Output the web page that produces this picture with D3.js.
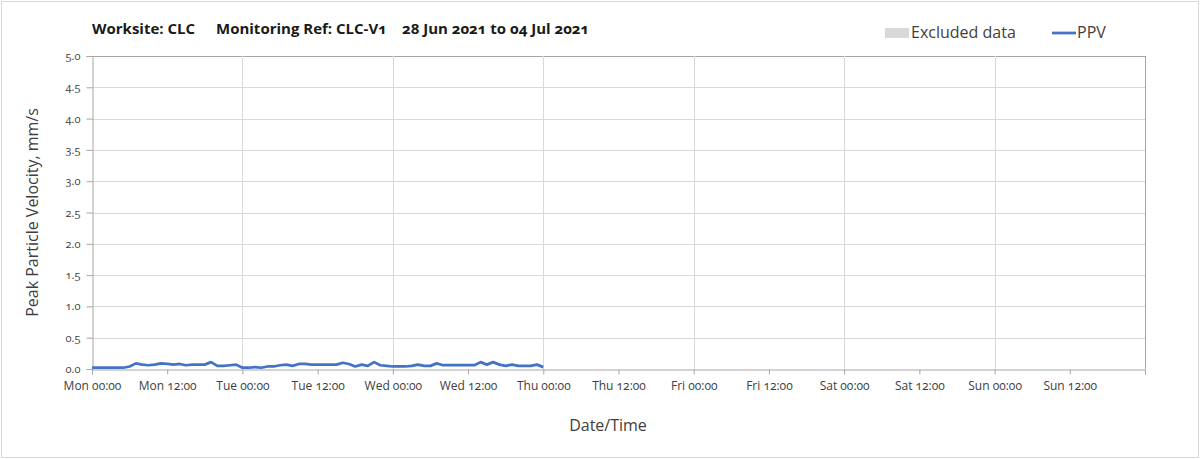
<!DOCTYPE html>
<html>
  <head>
    <meta charset="utf-8">
    <style>
      body { margin: 0; background: #fff; }
      text { font-family: "Open Sans", Lato, sans-serif; font-variant-numeric: oldstyle-nums; }
    </style>
  </head>
  <body>
    <script src="https://d3js.org/d3.v7.min.js"></script>
    <script>
      // hourly readings, Mon 00:00 to Thu 00:00
      var hours = d3.range(0, 73);
      var ppv = [0.02, 0.02, 0.02, 0.02, 0.02, 0.02, 0.04, 0.09, 0.07, 0.06,
                 0.07, 0.09, 0.08, 0.07, 0.08, 0.06, 0.07, 0.07, 0.07, 0.11,
                 0.05, 0.05, 0.06, 0.07, 0.02, 0.02, 0.03, 0.02, 0.04, 0.04,
                 0.06, 0.07, 0.05, 0.08, 0.08, 0.07, 0.07, 0.07, 0.07, 0.07,
                 0.10, 0.08, 0.04, 0.07, 0.05, 0.11, 0.06, 0.05, 0.04, 0.04,
                 0.04, 0.05, 0.07, 0.05, 0.05, 0.09, 0.06, 0.06, 0.06, 0.06,
                 0.06, 0.06, 0.11, 0.07, 0.11, 0.07, 0.05, 0.07, 0.05, 0.05,
                 0.05, 0.07, 0.03];
      var yTicks = [0, 0.5, 1, 1.5, 2, 2.5, 3, 3.5, 4, 4.5, 5];
      var xTicks = d3.range(0, 168, 12);
      var xTickLabels = ["Mon 00:00", "Mon 12:00", "Tue 00:00", "Tue 12:00", "Wed 00:00", "Wed 12:00",
                         "Thu 00:00", "Thu 12:00", "Fri 00:00", "Fri 12:00", "Sat 00:00", "Sat 12:00",
                         "Sun 00:00", "Sun 12:00"];
      var dayTicks = d3.range(0, 169, 24);
      var titleParts = ["Worksite: CLC", "Monitoring Ref: CLC-V1", "28 Jun 2021 to 04 Jul 2021"];

      var W = 1203, H = 459;
      var pL = 92, pR = 1145, pT = 56, pB = 369;

      var svg = d3.select("body").append("svg")
        .attr("width", W).attr("height", H);

      // chart frame
      svg.append("rect")
        .attr("x", 1.5).attr("y", 1.5)
        .attr("width", 1197).attr("height", 456)
        .attr("fill", "#fff").attr("stroke", "#d9d9d9");

      var x = d3.scaleLinear().domain([0, 168]).range([pL, pR]);
      var y = d3.scaleLinear().domain([0, 5]).range([pB, pT]);

      // gridlines
      svg.append("g").selectAll("line").data(yTicks.slice(1)).enter()
        .append("line")
        .attr("x1", pL).attr("x2", pR)
        .attr("y1", function(d){ return Math.round(y(d)) + 0.5; })
        .attr("y2", function(d){ return Math.round(y(d)) + 0.5; })
        .attr("stroke", function(d){ return d == 5 ? "#a6a6a6" : "#d9d9d9"; });
      svg.append("g").selectAll("line").data(dayTicks.slice(1)).enter()
        .append("line")
        .attr("y1", pT).attr("y2", pB)
        .attr("x1", function(d){ return Math.round(x(d)) + 0.5; })
        .attr("x2", function(d){ return Math.round(x(d)) + 0.5; })
        .attr("stroke", function(d){ return d == 168 ? "#a6a6a6" : "#d9d9d9"; });

      // y axis
      var yAxis = d3.axisLeft(y).tickValues(yTicks).tickSize(6).tickPadding(6)
        .tickFormat(d3.format(".1f"));
      var gy = svg.append("g").attr("transform", "translate(" + (pL + 0.5) + ",0)").call(yAxis);
      gy.select(".domain").attr("stroke", "#a6a6a6");
      gy.selectAll(".tick line").attr("stroke", "#a6a6a6");
      gy.selectAll(".tick text").attr("fill", "#404040").style("font-size", "11px");

      // x axis
      var xAxis = d3.axisBottom(x).tickValues(xTicks.concat([168])).tickSize(5).tickPadding(7)
        .tickFormat(function(d, i){ return xTickLabels[i] || ""; });
      var gx = svg.append("g").attr("transform", "translate(0," + (pB + 0.5) + ")").call(xAxis);
      gx.select(".domain").attr("stroke", "#a6a6a6");
      gx.selectAll(".tick line").attr("stroke", "#a6a6a6");
      gx.selectAll(".tick text").attr("fill", "#404040").style("font-size", "12px");

      // PPV line
      var line = d3.line()
        .x(function(d, i){ return x(hours[i]); })
        .y(function(d){ return y(d); });
      svg.append("path").datum(ppv)
        .attr("d", line)
        .attr("fill", "none")
        .attr("stroke", "#4472c4")
        .attr("stroke-width", 2.75)
        .attr("stroke-linejoin", "round");

      // title
      var titleX = [92, 216, 402];
      svg.selectAll(".ttl").data(titleParts).enter().append("text")
        .attr("class", "ttl")
        .attr("x", function(d, i){ return titleX[i]; }).attr("y", 34)
        .style("font-size", "15px").style("font-weight", "bold").attr("fill", "#1a1a1a")
        .text(function(d){ return d; });

      // legend
      svg.append("rect").attr("x", 885).attr("y", 28).attr("width", 24).attr("height", 10)
        .attr("fill", "#d9d9d9");
      svg.append("text").attr("x", 911).attr("y", 38)
        .style("font-size", "16px").attr("fill", "#404040").text("Excluded data");
      svg.append("line").attr("x1", 1052).attr("x2", 1076).attr("y1", 33).attr("y2", 33)
        .attr("stroke", "#4472c4").attr("stroke-width", 2.75);
      svg.append("text").attr("x", 1077).attr("y", 38)
        .style("font-size", "16px").attr("fill", "#404040").text("PPV");

      // axis titles
      svg.append("text")
        .attr("transform", "translate(38," + ((pT + pB) / 2) + ") rotate(-90)")
        .attr("text-anchor", "middle")
        .style("font-size", "16px").attr("fill", "#404040")
        .text("Peak Particle Velocity, mm/s");
      svg.append("text")
        .attr("x", 608).attr("y", 431)
        .attr("text-anchor", "middle")
        .style("font-size", "16px").attr("fill", "#404040")
        .text("Date/Time");
    </script>
  </body>
</html>
